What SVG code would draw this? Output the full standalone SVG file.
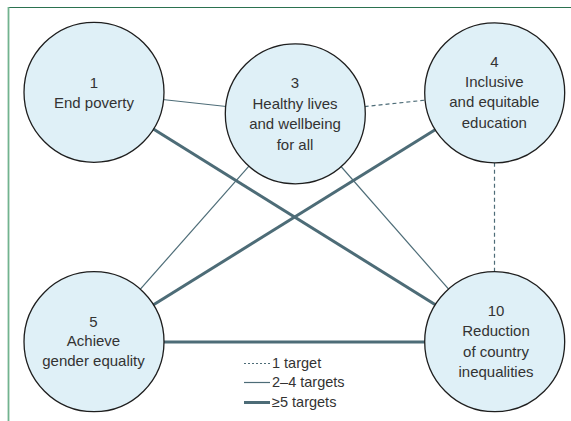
<svg xmlns="http://www.w3.org/2000/svg" width="571" height="421" viewBox="0 0 571 421">
<style>
.node circle{fill:#dff0f7;stroke:#1e1e1e;stroke-width:1.3}
text{font-family:"Liberation Sans",Arial,sans-serif;font-size:15px;fill:#333;text-anchor:middle}
.leg text{font-size:14.5px;text-anchor:start}
.c{stroke:#4d6c77;fill:none}
.thin{stroke-width:1.2}
.thick{stroke-width:3}
.dash{stroke-width:1.2;stroke-dasharray:4 3}
</style>
<rect width="571" height="421" fill="#fff"/>
<g id="frame">
<line x1="8" y1="7.5" x2="571" y2="7.5" stroke="#2b7250" stroke-width="1.2"/>
<line x1="8.5" y1="7" x2="8.5" y2="421" stroke="#72b38f" stroke-width="1.8"/>
</g>
<g id="connectors">
<line class="c thin" x1="94" y1="92" x2="295" y2="114"/>
<line class="c thick" x1="94" y1="92" x2="494.7" y2="341.7"/>
<line class="c dash" x1="295" y1="114" x2="494.7" y2="92.8"/>
<line class="c thick" x1="494.7" y1="92.8" x2="94" y2="341.7"/>
<line class="c thin" x1="295" y1="114" x2="94" y2="341.7"/>
<line class="c thin" x1="295" y1="114" x2="494.7" y2="341.7"/>
<line class="c dash" x1="494.5" y1="92.8" x2="494.5" y2="341.7"/>
<line class="c thick" x1="94" y1="342" x2="494.7" y2="342"/>
</g>
<g id="n1" class="node">
<circle cx="94" cy="92.3" r="70"/>
<text x="94" y="87.5">1</text>
<text x="94" y="108.3">End poverty</text>
</g>
<g id="n3" class="node">
<circle cx="295.3" cy="113.8" r="70"/>
<text x="295" y="88.3">3</text>
<text x="295" y="108.5">Healthy lives</text>
<text x="295" y="129.3">and wellbeing</text>
<text x="295" y="150">for all</text>
</g>
<g id="n4" class="node">
<circle cx="494.7" cy="92.8" r="70"/>
<text x="494.3" y="66.7">4</text>
<text x="494.3" y="86.5">Inclusive</text>
<text x="494.3" y="107.3">and equitable</text>
<text x="494.3" y="128.3">education</text>
</g>
<g id="n5" class="node">
<circle cx="94" cy="341.7" r="70"/>
<text x="93.5" y="326.5">5</text>
<text x="93.5" y="346">Achieve</text>
<text x="93.5" y="366">gender equality</text>
</g>
<g id="n10" class="node">
<circle cx="494.7" cy="341.7" r="70"/>
<text x="496" y="315.5">10</text>
<text x="496" y="336">Reduction</text>
<text x="496" y="356.7">of country</text>
<text x="496" y="376.7">inequalities</text>
</g>
<g id="legend" class="leg">
<line class="c" x1="244" y1="363.5" x2="270" y2="363.5" stroke-width="1.2" stroke-dasharray="2 2"/>
<text x="272" y="368">1 target</text>
<line class="c thin" x1="244" y1="382.5" x2="270" y2="382.5"/>
<text x="272" y="387">2–4 targets</text>
<line class="c thick" x1="244" y1="402.5" x2="270" y2="402.5"/>
<text x="272" y="407">≥5 targets</text>
</g>
</svg>
